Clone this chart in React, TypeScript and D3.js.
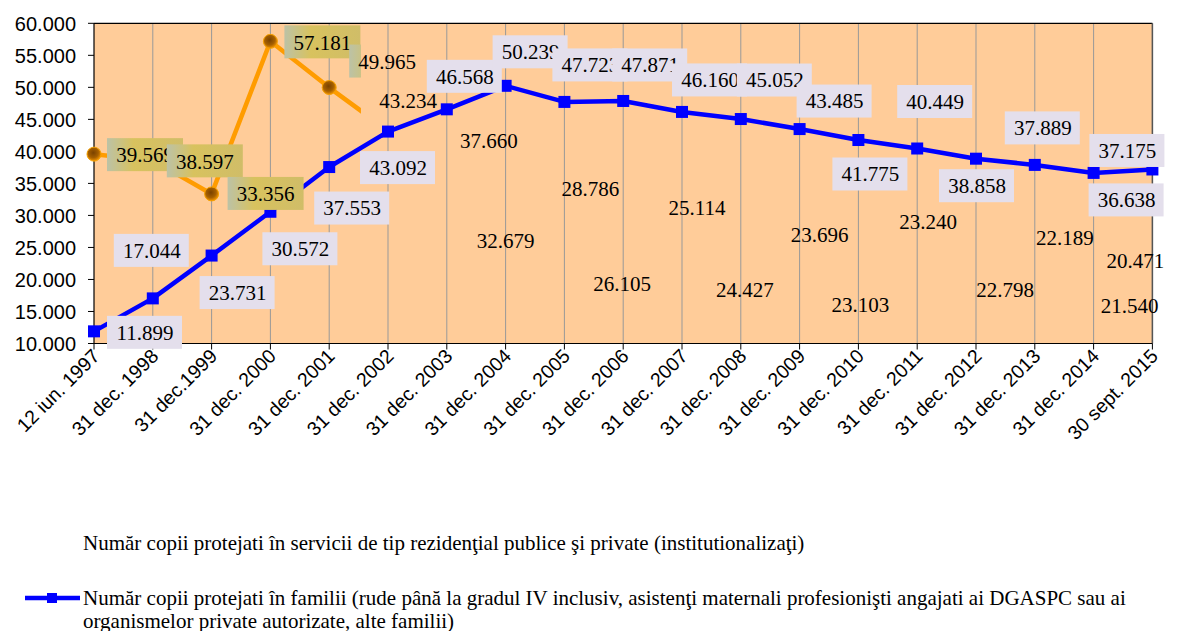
import React from 'react';
import * as d3 from 'd3';

const width = 1179;
const height = 631;
const margin = { top: 23.3, right: 26.6, left: 94 };

const categories = [
  '12 iun. 1997', '31 dec. 1998', '31 dec.1999', '31 dec. 2000', '31 dec. 2001',
  '31 dec. 2002', '31 dec. 2003', '31 dec. 2004', '31 dec. 2005', '31 dec. 2006',
  '31 dec. 2007', '31 dec. 2008', '31 dec. 2009', '31 dec. 2010', '31 dec. 2011',
  '31 dec. 2012', '31 dec. 2013', '31 dec. 2014', '30 sept. 2015',
];
const institutionalized = [
  39569, 38597, 33356, 57181, 49965, 43234, 37660, 32679, 28786, 26105,
  25114, 24427, 23696, 23103, 23240, 22798, 22189, 21540, 20471,
];
const families = [
  11899, 17044, 23731, 30572, 37553, 43092, 46568, 50239, 47723, 47871,
  46160, 45052, 43485, 41775, 40449, 38858, 37889, 36638, 37175,
];
const yTicks = [10000, 15000, 20000, 25000, 30000, 35000, 40000, 45000, 50000, 55000, 60000];

// label offsets (px) relative to each point
const orangeLabelOffsets = [
  [51, 1], [52, 1], [54, 0], [52, 1], [58, -26], [20, -30], [42, -26], [0, 42],
  [26, -35], [-1, 43], [15, -39], [4, 39], [20, -21], [2, 45], [11, -37], [29, 28],
  [30, -28], [36, 36], [-17, -16],
];
const blueLabelOffsets = [
  [51, 1], [-1, -48], [26, 37], [30, 37], [23, 41], [10, 36], [18, -33], [25, -34],
  [26, -37], [27, -36], [28, -32], [34, -39], [35, -28], [12, 34], [18, -47], [1, 27],
  [8, -37], [33, 27], [-25, -19],
];
const orangeBoxedCount = 5;

const legendOrange =
  'Număr copii protejati în servicii de tip rezidenţial publice şi private (institutionalizaţi)';
const legendBlue1 =
  'Număr copii protejati în familii (rude până la gradul IV inclusiv, asistenţi maternali profesionişti angajati ai DGASPC sau ai';
const legendBlue2 = 'organismelor private autorizate, alte familii)';

const ro = d3.formatLocale({ decimal: ',', thousands: '.', grouping: [3], currency: ['', ' lei'] });
const fmt = ro.format(',d');

export default function App() {
  const x0 = margin.left;
  const x1 = width - margin.right;
  const y0 = margin.top;
  const xScale = d3.scalePoint<string>().domain(categories).range([x0, x1]);
  const yScale = d3.scaleLinear().domain([10000, 60000]).range([343.5, y0]);
  const step = xScale.step();

  const line = d3
    .line<number>()
    .x((_, i) => xScale(categories[i]) as number)
    .y((d) => yScale(d));

  const clipRight = (xScale(categories[4]) as number) + step * 0.54;
  const serif = 'Liberation Serif';
  const sans = 'Liberation Sans';
  const bottom = yScale(10000);
  const labelSize = 21;

  return (
    <svg width={width} height={height} style={{ position: 'absolute', left: 0, top: 0, background: '#fff' }}>
      <defs>
        <clipPath id="orangeClip">
          <rect x={x0 - 10} y={0} width={clipRight - x0 + 10} height={bottom} />
        </clipPath>
        <radialGradient id="orangeDot" cx="45%" cy="40%" r="60%">
          <stop offset="0%" stopColor="#7a4200" />
          <stop offset="60%" stopColor="#a55f00" />
          <stop offset="100%" stopColor="#f29400" />
        </radialGradient>
        <linearGradient id="orangeBox" x1="0" x2="1" y1="0" y2="0">
          <stop offset="0%" stopColor="#bcc2a6" />
          <stop offset="35%" stopColor="#d8c25e" />
          <stop offset="100%" stopColor="#d0bd68" />
        </linearGradient>
      </defs>

      <rect x={x0} y={y0} width={x1 - x0} height={bottom - y0} fill="#FFCC99" />
      {categories.slice(1).map((c) => (
        <line key={c} x1={xScale(c)} x2={xScale(c)} y1={y0} y2={bottom} stroke="#999" strokeWidth={1} />
      ))}
      <line x1={x0} x2={x1} y1={y0} y2={y0} stroke="#000" strokeWidth={1.2} />
      <line x1={x1} x2={x1} y1={y0} y2={bottom} stroke="#555" strokeWidth={1.5} />
      <line x1={x0} x2={x1} y1={bottom} y2={bottom} stroke="#000" strokeWidth={1.2} />
      <line x1={x0} x2={x0} y1={y0} y2={bottom} stroke="#000" strokeWidth={1.2} />

      {yTicks.map((t) => (
        <g key={t}>
          <line x1={x0 - 6} x2={x0} y1={yScale(t)} y2={yScale(t)} stroke="#000" />
          <text x={x0 - 18} y={yScale(t)} dy="0.36em" textAnchor="end" fontFamily={sans} fontSize={20} fill="#000">
            {fmt(t)}
          </text>
        </g>
      ))}
      {categories.map((c) => (
        <g key={c}>
          <line x1={xScale(c)} x2={xScale(c)} y1={bottom} y2={bottom + 6} stroke="#000" />
          <text
            transform={`translate(${(xScale(c) as number) + 2},${bottom + 9}) rotate(-45)`}
            textAnchor="end"
            dy="0.35em"
            fontFamily={sans}
            fontSize={19.5}
            fill="#000"
          >
            {c}
          </text>
        </g>
      ))}

      <g clipPath="url(#orangeClip)">
        <path d={line(institutionalized) || ''} fill="none" stroke="#FF9C00" strokeWidth={4.5} strokeLinejoin="round" />
      </g>
      <path d={line(families) || ''} fill="none" stroke="#0000FF" strokeWidth={4.5} strokeLinejoin="round" />

      {institutionalized.slice(0, orangeBoxedCount).map((v, i) => (
        <circle key={i} cx={xScale(categories[i])} cy={yScale(v)} r={7} fill="url(#orangeDot)" stroke="#f5a000" strokeWidth={1} />
      ))}
      {families.map((v, i) => (
        <rect key={i} x={(xScale(categories[i]) as number) - 6} y={yScale(v) - 6} width={12} height={12} fill="#0000FF" />
      ))}

      {institutionalized.map((v, i) => {
        const cx = (xScale(categories[i]) as number) + orangeLabelOffsets[i][0];
        const cy = yScale(v) + orangeLabelOffsets[i][1];
        return (
          <g key={i}>
            {i < orangeBoxedCount && (
              <rect x={cx - 38} y={cy - 17} width={76} height={33} fill="url(#orangeBox)" clipPath="url(#orangeClip)" />
            )}
            <text x={cx} y={cy} dy="0.35em" textAnchor="middle" fontFamily={serif} fontSize={labelSize} fill="#000">
              {fmt(v)}
            </text>
          </g>
        );
      })}

      {families.map((v, i) => {
        const cx = (xScale(categories[i]) as number) + blueLabelOffsets[i][0];
        const cy = yScale(v) + blueLabelOffsets[i][1];
        return (
          <g key={i}>
            <rect x={cx - 38} y={cy - 16.5} width={75} height={33} fill="#E4DFEC" />
            <text x={cx} y={cy} dy="0.35em" textAnchor="middle" fontFamily={serif} fontSize={labelSize} fill="#000">
              {fmt(v)}
            </text>
          </g>
        );
      })}

      <text x={83} y={543} dy="0.35em" fontFamily={serif} fontSize={21} fill="#000">
        {legendOrange}
      </text>
      <line x1={25} x2={80} y1={598} y2={598} stroke="#0000FF" strokeWidth={4.5} />
      <rect x={47} y={593} width={10} height={10} fill="#0000FF" />
      <text x={83} y={598} dy="0.35em" fontFamily={serif} fontSize={21} fill="#000">
        {legendBlue1}
      </text>
      <text x={83} y={621} dy="0.35em" fontFamily={serif} fontSize={21} fill="#000">
        {legendBlue2}
      </text>
    </svg>
  );
}
